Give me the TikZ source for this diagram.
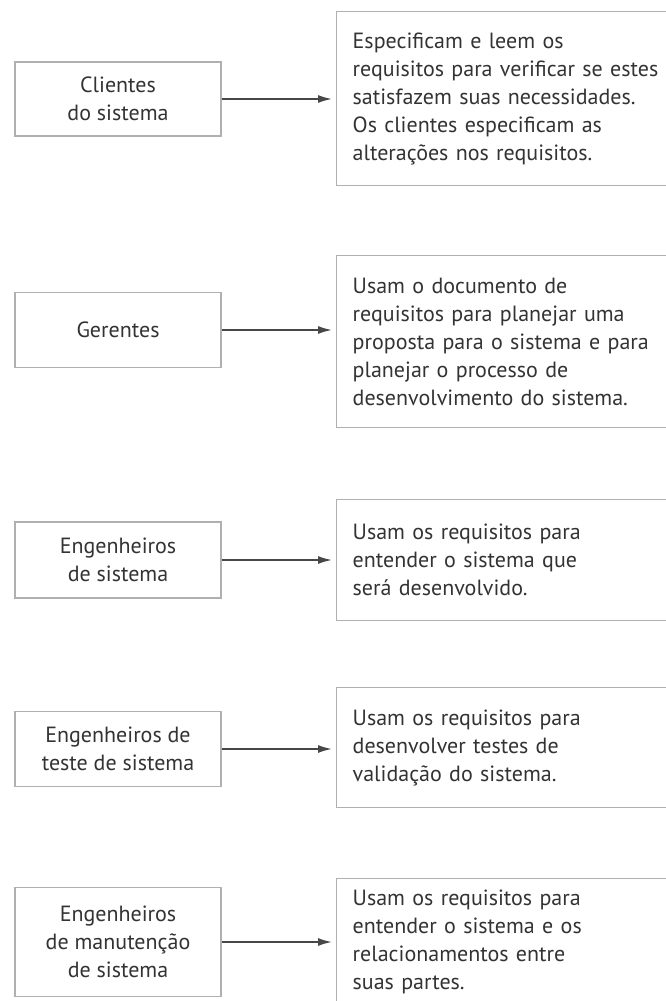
\documentclass[tikz,border=0pt]{standalone}
\usepackage{fontspec}
\setmainfont{PT Sans}
\usetikzlibrary{positioning,arrows.meta}
\definecolor{boxgray}{HTML}{B0B0B0}
\definecolor{inkgray}{HTML}{333333}
\tikzstyle{arrow} = [line width=1.6pt,draw=inkgray!90,-{Latex[length=14pt,width=8pt]},shorten >=4pt]
\tikzstyle{actor} = [draw=boxgray,line width=1.4pt,text=inkgray,minimum width=206pt,align=center,font=\fontsize{22}{28}\selectfont]
\tikzstyle{usage} = [draw=boxgray,line width=1.4pt,text=inkgray,anchor=north west,inner xsep=16pt,text width=340pt,align=left,font=\fontsize{22}{28}\selectfont]

\begin{document}
\begin{tikzpicture}[x=1pt,y=-1pt]
    \useasboundingbox (0,0) rectangle (665,1001);

    \node (cli) [actor, minimum height=74pt] at (118,99) {Clientes\\do sistema};
    \node (clitxt) [usage, minimum height=174pt] at (336,11) {Especificam e leem os\\requisitos para verificar se estes\\satisfazem suas necessidades.\\Os clientes especificam as\\alterações nos requisitos.};
    \draw [arrow] (cli.east) -- (cli.east -| clitxt.west);

    \node (ger) [actor, minimum height=75pt] at (118,330) {Gerentes};
    \node (gertxt) [usage, minimum height=172pt] at (336,255) {Usam o documento de\\requisitos para planejar uma\\proposta para o sistema e para\\planejar o processo de\\desenvolvimento do sistema.};
    \draw [arrow] (ger.east) -- (ger.east -| gertxt.west);

    \node (eng) [actor, minimum height=76pt] at (118,560) {Engenheiros\\de sistema};
    \node (engtxt) [usage, minimum height=121pt] at (336,499) {Usam os requisitos para\\entender o sistema que\\será desenvolvido.};
    \draw [arrow] (eng.east) -- (eng.east -| engtxt.west);

    \node (tst) [actor, minimum height=75pt] at (118,749) {Engenheiros de\\teste de sistema};
    \node (tsttxt) [usage, minimum height=120pt] at (336,687) {Usam os requisitos para\\desenvolver testes de\\validação do sistema.};
    \draw [arrow] (tst.east) -- (tst.east -| tsttxt.west);

    \node (man) [actor, minimum height=109pt] at (118,942) {Engenheiros\\de manutenção\\de sistema};
    \node (mantxt) [usage, inner ysep=11pt, text depth=115pt] at (336,878) {Usam os requisitos para\\entender o sistema e os\\relacionamentos entre\\suas partes.};
    \draw [arrow] (man.east) -- (man.east -| mantxt.west);
\end{tikzpicture}
\end{document}
